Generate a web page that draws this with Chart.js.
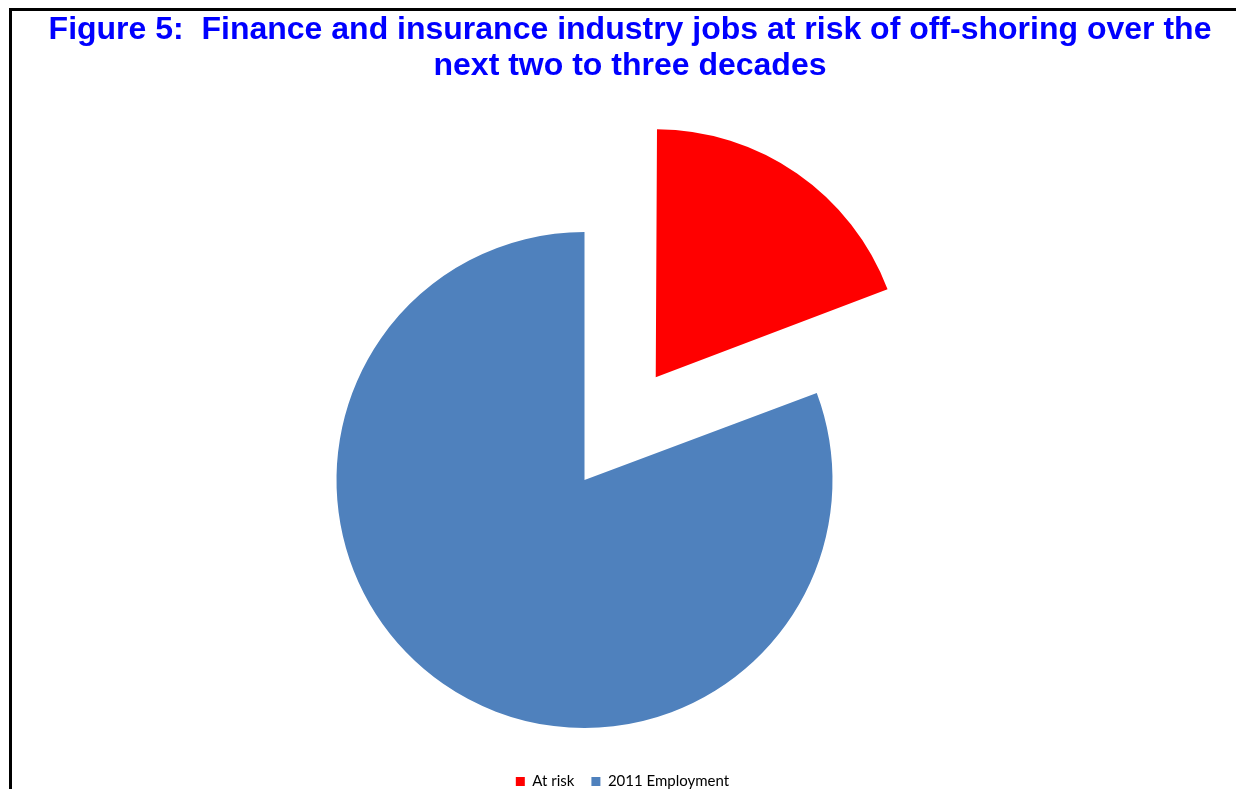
<!DOCTYPE html>
<html>
<head>
<meta charset="utf-8">
<script src="https://cdn.jsdelivr.net/npm/chart.js@4.4.1/dist/chart.umd.min.js"></script>
<style>
    html, body { margin: 0; padding: 0; background: #fff; overflow: hidden; }
    #wrap { position: relative; width: 1236px; height: 789px; overflow: hidden; }
    #frame {
        position: absolute; left: 9px; top: 8px; right: -20px; bottom: -20px;
        border-top: 3px solid #000; border-left: 3px solid #000;
    }
    #chart { position: absolute; left: 0; top: 0; }
</style>
</head>
<body>
<div id="wrap">
    <div id="frame"></div>
    <canvas id="chart" width="1236" height="799"></canvas>
</div>
<script>
const titleLines = [
    'Figure 5:  Finance and insurance industry jobs at risk of off-shoring over the',
    'next two to three decades'
];
const categories = ['At risk', '2011 Employment'];
// share of finance and insurance employment, percent
const jobShare = [19.3, 80.7];
const sliceColours = ['#FF0000', '#4F81BD'];
// Chart.js v4 draws an arc offset at a quarter of this value
const sliceOffsets = [500, 0];

/**
 * Moves the title and legend sideways after layout, since in the
 * original they are not centred on the pie.
 */
const shiftBoxes = {
    id: 'shiftBoxes',
    afterLayout(chart, args, opts) {
        const t = chart.titleBlock, l = chart.legend;
        if (t) { t.left += opts.title; t.right += opts.title; }
        if (l) { l.left += opts.legend; l.right += opts.legend; }
    }
};

/**
 * Chart.js grows an exploded narrow slice a little; the original keeps
 * the same radius for every slice, so take that growth back off.
 */
const keepRadius = {
    id: 'keepRadius',
    afterDatasetUpdate(chart, args) {
        args.meta.data.forEach(arc => {
            const off = (arc.options.offset || 0) / 4;
            const fix = 1 - Math.sin(Math.min(Math.PI, arc.circumference));
            arc.outerRadius -= off * fix;
        });
    }
};

new Chart(document.getElementById('chart'), {
    type: 'pie',
    data: {
        labels: categories,
        datasets: [{
            data: jobShare,
            backgroundColor: sliceColours,
            borderWidth: 0,
            offset: sliceOffsets,
            clip: false
        }]
    },
    options: {
        responsive: false,
        animation: false,
        radius: 248,
        layout: { padding: { left: 0, right: 67, top: 0, bottom: 0 } },
        plugins: {
            title: {
                display: true,
                text: titleLines,
                color: '#0000FF',
                font: { family: '"Liberation Sans", Arial, sans-serif', size: 32, weight: 'bold', lineHeight: '36px' },
                padding: { top: 12.5, bottom: 118.5 }
            },
            legend: {
                position: 'bottom',
                labels: {
                    boxWidth: 9,
                    boxHeight: 9,
                    padding: 17,
                    color: '#000',
                    font: { family: 'Lato, "Open Sans", sans-serif', size: 15 }
                }
            },
            tooltip: { enabled: false },
            shiftBoxes: { title: 45.5, legend: 38 }
        }
    },
    plugins: [shiftBoxes, keepRadius]
});
</script>
</body>
</html>
